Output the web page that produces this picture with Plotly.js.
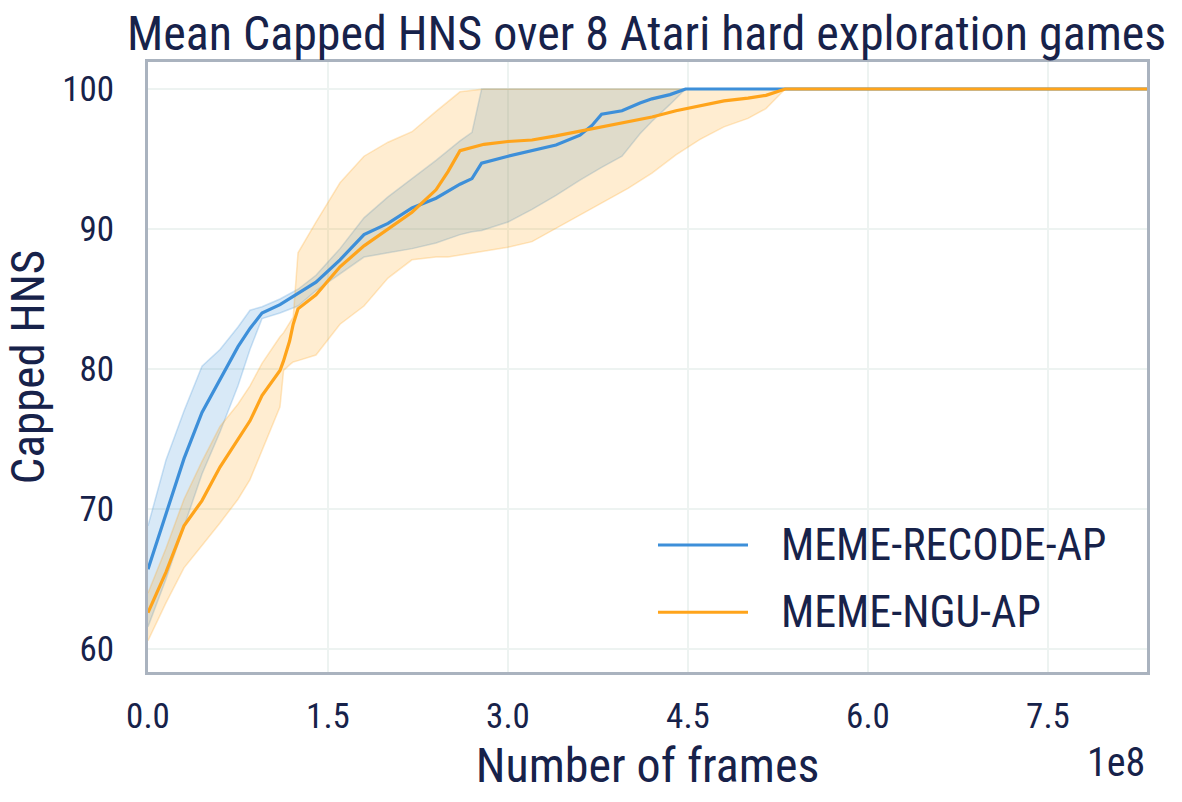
<!DOCTYPE html>
<html>
<head>
<meta charset="utf-8">
<script src="https://cdn.plot.ly/plotly-3.0.1.min.js"></script>
<style>
  html, body { margin: 0; padding: 0; background: #ffffff; }
  #chart { width: 1182px; height: 802px; }
</style>
</head>
<body>
<div id="chart"></div>
<script>
// ---- data (frames in units of 1e8) ----
const recodeX     = [0, 0.15, 0.3, 0.45, 0.6, 0.75, 0.85, 0.95, 1.1, 1.25, 1.4, 1.6, 1.8, 2.0, 2.2, 2.4, 2.6, 2.7, 2.78, 3.0, 3.2, 3.4, 3.6, 3.7, 3.78, 3.95, 4.1, 4.2, 4.35, 4.48, 5.0, 6.0, 7.0, 8.33];
const recodeMean  = [65.7, 69.6, 73.6, 76.9, 79.2, 81.6, 82.9, 84.0, 84.6, 85.4, 86.2, 87.8, 89.6, 90.4, 91.5, 92.2, 93.2, 93.6, 94.7, 95.2, 95.6, 96.0, 96.7, 97.4, 98.2, 98.45, 99.0, 99.3, 99.6, 100, 100, 100, 100, 100];
const recodeUpper = [68.8, 73.5, 77.0, 80.2, 81.4, 83.0, 84.2, 84.45, 85.0, 85.7, 86.7, 88.6, 90.8, 92.3, 93.6, 94.9, 96.3, 96.9, 100, 100, 100, 100, 100, 100, 100, 100, 100, 100, 100, 100, 100, 100, 100, 100];
const recodeLower = [61.6, 65.0, 68.8, 72.5, 75.5, 78.8, 81.4, 83.6, 84.0, 84.5, 85.6, 86.8, 88.0, 88.3, 88.6, 89.0, 89.6, 89.8, 89.9, 90.5, 91.4, 92.4, 93.5, 94.0, 94.4, 95.2, 96.8, 97.7, 98.9, 100, 100, 100, 100, 100];

const nguX     = [0, 0.15, 0.3, 0.45, 0.6, 0.75, 0.85, 0.95, 1.1, 1.13, 1.18, 1.21, 1.25, 1.4, 1.6, 1.8, 2.0, 2.2, 2.4, 2.5, 2.6, 2.8, 3.0, 3.2, 3.4, 3.6, 3.8, 4.0, 4.2, 4.4, 4.6, 4.8, 5.0, 5.15, 5.31, 6.0, 7.0, 8.33];
const nguMean  = [62.6, 65.5, 68.8, 70.6, 73.0, 75.0, 76.3, 78.1, 79.9, 80.6, 82.0, 83.2, 84.3, 85.3, 87.3, 88.8, 90.0, 91.2, 92.8, 94.1, 95.6, 96.05, 96.25, 96.36, 96.65, 96.98, 97.3, 97.63, 98.0, 98.45, 98.8, 99.15, 99.35, 99.55, 100, 100, 100, 100];
const nguUpper = [64.0, 67.2, 70.7, 73.4, 75.9, 77.5, 78.8, 80.4, 82.3, 82.6, 83.3, 83.7, 88.3, 90.5, 93.3, 95.2, 96.2, 96.95, 98.4, 99.1, 99.8, 100, 100, 100, 100, 100, 100, 100, 100, 100, 100, 100, 100, 100, 100, 100, 100, 100];
const nguLower = [60.6, 63.3, 65.8, 67.4, 69.0, 70.7, 72.1, 74.1, 77.3, 79.9, 80.3, 80.5, 80.6, 81.0, 83.2, 84.5, 86.5, 87.8, 88.0, 88.0, 88.1, 88.4, 88.7, 89.1, 90.0, 91.0, 91.95, 92.9, 94.0, 95.3, 96.4, 97.3, 97.9, 98.6, 100, 100, 100, 100];

const seriesNames = ['MEME-RECODE-AP', 'MEME-NGU-AP'];
const xTickVals = [0, 1.5, 3.0, 4.5, 6.0, 7.5];
const xTickText = ['0.0', '1.5', '3.0', '4.5', '6.0', '7.5'];
const yTickVals = [60, 70, 80, 90, 100];

// ---- style ----
const FONT = '"Roboto Condensed", "Liberation Sans Narrow", "DejaVu Sans Condensed", Roboto, sans-serif';
const TXT = '#17224a';
const BLUE = '#3d8fd9';
const ORANGE = '#ffa41b';

function band(x, up, lo, fill, edge) {
  return {
    x: x.concat(x.slice().reverse()),
    y: up.concat(lo.slice().reverse()),
    type: 'scatter', mode: 'lines', fill: 'toself',
    fillcolor: fill, line: {color: edge, width: 1.5},
    hoverinfo: 'skip', showlegend: false
  };
}

const traces = [
  band(recodeX, recodeUpper, recodeLower, 'rgba(61,143,217,0.2)', 'rgba(61,143,217,0.25)'),
  band(nguX, nguUpper, nguLower, 'rgba(255,164,27,0.2)', 'rgba(255,164,27,0.25)'),
  {x: recodeX, y: recodeMean, type: 'scatter', mode: 'lines', name: seriesNames[0],
   line: {color: BLUE, width: 3.2}, showlegend: false},
  {x: nguX, y: nguMean, type: 'scatter', mode: 'lines', name: seriesNames[1],
   line: {color: ORANGE, width: 3.2}, showlegend: false}
];

const layout = {
  width: 1182, height: 802,
  margin: {l: 148, r: 35, t: 62, b: 130},
  paper_bgcolor: '#ffffff', plot_bgcolor: '#ffffff',
  font: {family: FONT, color: TXT},
  title: {text: 'Mean Capped HNS over 8 Atari hard exploration games',
          font: {family: FONT, size: 48, color: TXT}, x: 0.547, xanchor: 'center', y: 0.958, yanchor: 'middle'},
  xaxis: {
    range: [0, 8.325], tickvals: xTickVals, ticktext: xTickText,
    showgrid: true, gridcolor: '#edf3f1', gridwidth: 2.5,
    showline: true, linecolor: '#aab3bf', linewidth: 3, mirror: true,
    zeroline: false, ticks: '', ticklabelstandoff: 11,
    tickfont: {family: FONT, size: 35, color: TXT},
    title: {text: 'Number of frames', font: {family: FONT, size: 48, color: TXT}, standoff: 8}
  },
  yaxis: {
    range: [58.36, 101.93], tickvals: yTickVals,
    showgrid: true, gridcolor: '#edf3f1', gridwidth: 2.5,
    showline: true, linecolor: '#aab3bf', linewidth: 3, mirror: true,
    zeroline: false, ticks: '', ticklabelstandoff: 24,
    tickfont: {family: FONT, size: 35, color: TXT},
    title: {text: 'Capped HNS', font: {family: FONT, size: 47, color: TXT}, standoff: 3}
  },
  shapes: [
    {type: 'line', xref: 'paper', yref: 'paper', x0: 0.5105, x1: 0.6006, y0: 0.208, y1: 0.208,
     line: {color: BLUE, width: 3}},
    {type: 'line', xref: 'paper', yref: 'paper', x0: 0.5105, x1: 0.6006, y0: 0.098, y1: 0.098,
     line: {color: ORANGE, width: 3}}
  ],
  annotations: [
    {xref: 'paper', yref: 'paper', x: 0.6316, y: 0.208, xanchor: 'left', yanchor: 'middle',
     text: seriesNames[0], showarrow: false, font: {family: FONT, size: 44, color: TXT}},
    {xref: 'paper', yref: 'paper', x: 0.6316, y: 0.098, xanchor: 'left', yanchor: 'middle',
     text: seriesNames[1], showarrow: false, font: {family: FONT, size: 44, color: TXT}},
    {xref: 'paper', yref: 'paper', x: 1.0, y: -0.148, xanchor: 'right', yanchor: 'middle',
     text: '1e8', showarrow: false, font: {family: FONT, size: 40, color: TXT}}
  ]
};

Plotly.newPlot('chart', traces, layout, {displayModeBar: false, staticPlot: true});
</script>
</body>
</html>
